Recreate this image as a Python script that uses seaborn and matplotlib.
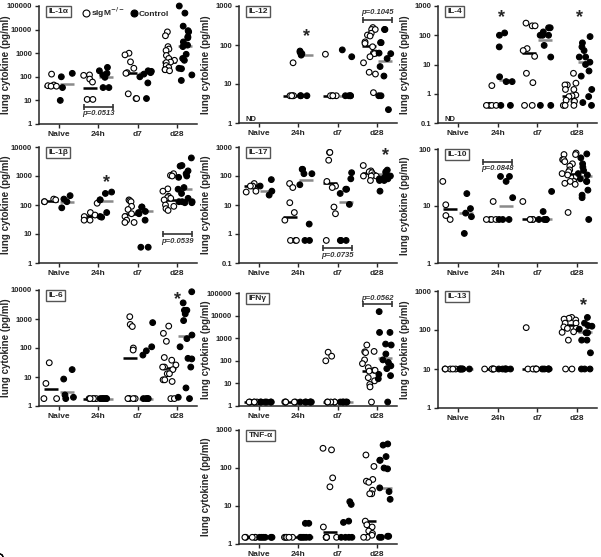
import numpy as np
import pandas as pd
import matplotlib
matplotlib.use("Agg")
import matplotlib.pyplot as plt
import seaborn as sns
from matplotlib.lines import Line2D
from matplotlib.ticker import FuncFormatter, NullLocator

GROUPS = ["Naive", "24h", "d7", "d28"]
KO = "sIgM$^{-/-}$"
CTRL = "Control"
nan = np.nan

# values (pg/ml), one inner list per time point
il1a_ko = [[130, 45, 42, 40, 40],
           [120, 115, 80, 60, 11, 11],
           [1000, 850, 430, 230, 150, 140, 19, 12, 12],
           [8000, 5500, 1900, 1500, 1300, 800, 600, 500, 420, 400, 300, 250, 200, 200, 180]]
il1a_ctrl = [[140, 100, 35, 10],
             [250, 180, 140, 120, 95, 35, 35],
             [180, 170, 150, 130, 100, 55, 12],
             [100000, 50000, 14000, 9000, 8000, 5000, 4500, 3000, 2200, 1900, 900, 600, 500, 230, 220, 120, 70]]
il1a_med_ko = [42, 35, 150, 440]
il1a_med_ctrl = [50, 100, 150, 2000]

il12_ko = [[],
           [35, 5, 5, 5, 5],
           [58, 5, 5, 5, 5],
           [280, 250, 250, 200, 180, 170, 120, 110, 90, 62, 62, 60, 50, 35, 20, 18, 6]]
il12_ctrl = [[],
             [70, 65, 60, 55, 5, 5, 5],
             [75, 50, 5, 5, 5, 5],
             [250, 250, 115, 115, 62, 60, 45, 28, 16, 5, 5, 2.2]]
il12_med_ko = [nan, 5, 5, 92]
il12_med_ctrl = [nan, 55, 5, 38]

il4_ko = [[],
          [1.9, 0.4, 0.4, 0.4, 0.4],
          [260, 210, 210, 35, 30, 19, 5, 2.4, 0.4, 0.4],
          [5, 2.3, 2, 2, 1.4, 1.4, 0.9, 0.85, 0.8, 0.6, 0.55, 0.55, 0.4, 0.4, 0.4]]
il4_ctrl = [[],
            [120, 100, 40, 3.8, 2.6, 2.6, 0.4, 0.4],
            [180, 180, 130, 100, 100, 100, 45, 18, 0.4, 0.4],
            [90, 55, 40, 30, 18, 18, 12, 10, 6, 4, 1.4, 0.8, 0.5, 0.4]]
il4_med_ko = [nan, 0.4, 25, 0.83]
il4_med_ctrl = [nan, 3.0, 70, 12]

il1b_ko = [[160, 150, 130, 130],
           [115, 55, 45, 40, 30, 30],
           [150, 140, 130, 90, 70, 50, 40, 30, 25, 25],
           [1200, 1050, 1000, 360, 300, 200, 180, 170, 150, 100, 90, 75, 65]]
il1b_ctrl = [[210, 160, 130, 80],
             [280, 250, 150, 150, 55, 40, 38],
             [85, 85, 60, 55, 50, 30, 3.5, 3.5],
             [4200, 2300, 2200, 1500, 1200, 1000, 900, 400, 350, 250, 170, 130, 130, 130, 120, 120]]
il1b_med_ko = [140, 43, 50, 150]
il1b_med_ctrl = [130, 140, 60, 360]

il17_ko = [[55, 45, 45, 30, 28],
           [55, 40, 12, 5.5, 3, 0.6, 0.6, 0.6],
           [650, 650, 350, 65, 45, 40, 8.5, 5, 0.6],
           [230, 150, 140, 130, 110, 100, 100, 100, 70]]
il17_ctrl = [[75, 45, 30, 22],
             [170, 170, 120, 120, 50, 2.2, 0.6, 0.6],
             [130, 80, 35, 35, 25, 10.5, 0.6, 0.6, 0.6],
             [160, 140, 130, 100, 90, 90, 80, 80, 70, 70, 30]]
il17_med_ko = [45, 4, 58, 130]
il17_med_ctrl = [30, 75, 13, 115]

il10_ko = [[27, 10.5, 6.8, 5.8],
           [12, 5.8, 5.8, 5.8, 5.8],
           [12, 5.8, 5.8, 5.8, 5.8],
           [85, 80, 80, 65, 65, 60, 55, 50, 43, 40, 37, 35, 33, 27, 27, 25, 24, 7.7]]
il10_ctrl = [[16.5, 9, 7.5, 6.5, 3.3],
             [33, 33, 27, 14, 5.8, 5.8, 5.8],
             [18, 8, 5.8, 5.8, 5.8, 5.8],
             [82, 70, 55, 48, 42, 37, 35, 30, 27, 27, 19, 15.5, 14, 5.8]]
il10_med_ko = [8.7, 5.8, 5.8, 37]
il10_med_ctrl = [7.6, 10, 5.8, 34]

il6_ko = [[31, 6, 1.8, 1.8],
          [1.8, 1.8, 1.8, 1.8, 1.8],
          [1200, 650, 550, 100, 85, 1.8, 1.8, 1.8, 1.8, 1.8],
          [570, 320, 170, 47, 38, 26, 22, 22, 18, 13, 13, 8, 8, 7, 1.8, 1.8]]
il6_ctrl = [[18, 8.5, 2.4, 2, 1.8],
            [1.8, 1.8, 1.8, 1.8, 1.8, 1.8],
            [750, 110, 80, 57, 1.8, 1.8, 1.8, 1.8],
            [8700, 3600, 2000, 2000, 1500, 880, 280, 210, 110, 44, 42, 22, 4.2, 2, 1.8]]
il6_med_ko = [3.9, 1.8, 44, 20]
il6_med_ctrl = [3.1, 1.8, 1.8, 260]

ifng_ko = [[1.5, 1.5, 1.5, 1.5, 1.5],
           [1.5, 1.5, 1.5, 1.5, 1.5],
           [240, 160, 100, 1.5, 1.5, 1.5, 1.5, 1.5],
           [500, 260, 250, 230, 110, 75, 50, 38, 38, 35, 18, 13, 9, 7, 1.5]]
ifng_ctrl = [[1.5, 1.5, 1.5, 1.5, 1.5, 1.5],
             [1.5, 1.5, 1.5, 1.5, 1.5, 1.5],
             [1.5, 1.5, 1.5, 1.5, 1.5],
             [15000, 1800, 1800, 550, 500, 200, 110, 85, 60, 45, 25, 22, 16, 1.5]]
ifng_med_ko = [1.5, 1.5, 1.5, 37]
ifng_med_ctrl = [1.5, 1.5, 1.5, 135]

il13_ko = [[10, 10, 10, 10, 10],
           [10, 10, 10, 10, 10],
           [115, 10, 10, 10, 10, 10],
           [210, 200, 190, 180, 150, 150, 120, 110, 110, 90, 87, 55, 10, 10]]
il13_ctrl = [[10, 10, 10, 10, 10, 10],
             [10, 10, 10, 10, 10, 10],
             [10, 10, 10, 10, 10],
             [210, 150, 130, 125, 105, 85, 85, 55, 55, 26, 10, 10, 10]]
il13_med_ko = [10, 10, 10, 135]
il13_med_ctrl = [10, 10, 10, 90]

tnfa_ko = [[1.5, 1.5, 1.5, 1.5, 1.5],
           [1.5, 1.5, 1.5, 1.5, 1.5],
           [330, 300, 55, 32, 2.8, 1.5, 1.5, 1.5, 1.5, 1.5],
           [220, 110, 50, 45, 42, 26, 21, 21, 4, 3.2, 2.8, 2.2, 1.9, 1.7, 1.5, 1.5]]
tnfa_ctrl = [[1.5, 1.5, 1.5, 1.5, 1.5, 1.5],
             [3.5, 3.5, 1.5, 1.5, 1.5, 1.5, 1.5],
             [13, 11, 4, 3.7, 1.5, 1.5, 1.5, 1.5],
             [430, 400, 200, 160, 160, 100, 95, 30, 24, 15, 1.6, 1.6, 1.5, 1.5]]
tnfa_med_ko = [1.5, 1.5, 2.1, 4.1]
tnfa_med_ctrl = [1.5, 1.5, 1.5, 30]

W, H = 601, 557

sns.set_style("ticks")
plt.rcParams["font.family"] = ["Liberation Sans", "DejaVu Sans"]
plt.rcParams["font.weight"] = "bold"
plt.rcParams["mathtext.default"] = "bf"
np.random.seed(3)  # fixed jitter layout

fig = plt.figure(figsize=(W / 100, H / 100), dpi=100)


def add_ax(left, top, right, bottom):
    return fig.add_axes([left / W, 1 - bottom / H, (right - left) / W, (bottom - top) / H])


def star(ax, gi, dx, y):
    ax.text(gi + dx, y, "*", ha="center", va="center", fontsize=13, fontweight="bold")


def bracket(ax, gi, y, label, ty):
    ax.plot([gi - 0.37, gi + 0.37], [y, y], color="#333333", lw=1.2,
            marker="|", markersize=5, markeredgewidth=1.2)
    ax.text(gi, ty, label, ha="center", va="center", fontsize=5.5,
            fontweight="bold", style="italic", color="#333333")


def panel(ax, title, ko, ctrl, med_ko, med_ctrl, ylim, nd=False):
    rows = []
    for g, vals in zip(GROUPS, ko):
        rows += [(g, KO, v) for v in vals]
    for g, vals in zip(GROUPS, ctrl):
        rows += [(g, CTRL, v) for v in vals]
    df = pd.DataFrame(rows, columns=["time", "mouse", "value"])
    med = pd.DataFrame({"time": GROUPS * 2,
                        "mouse": [KO] * 4 + [CTRL] * 4,
                        "value": list(med_ko) + list(med_ctrl)}).dropna()

    ax.set_yscale("log")
    ax.set_ylim(*ylim)
    sns.stripplot(data=df, x="time", y="value", hue="mouse", order=GROUPS,
                  hue_order=[KO, CTRL], palette={KO: "white", CTRL: "black"},
                  dodge=True, jitter=0.36, size=4.1, edgecolor="black", linewidth=0.8,
                  legend=False, ax=ax)
    sns.pointplot(data=med, x="time", y="value", hue="mouse", order=GROUPS,
                  hue_order=[KO, CTRL], palette={KO: "black", CTRL: "#8a8a8a"},
                  markers="_", linestyles="none", dodge=0.4, errorbar=None,
                  legend=False, markersize=10, markeredgewidth=1.8, ax=ax)
    for c in ax.collections:
        c.set_clip_on(False)

    ax.set_xlim(-0.5, 3.5)
    lo, hi = ylim
    ax.set_yticks([10.0 ** k for k in range(int(round(np.log10(lo))), int(round(np.log10(hi))) + 1)])
    ax.yaxis.set_minor_locator(NullLocator())
    ax.yaxis.set_major_formatter(FuncFormatter(lambda v, p: f"{v:g}"))
    ax.set_xlabel("")
    ax.set_ylabel("lung cytokine (pg/ml)", fontsize=7, fontweight="bold", va="center")
    ax.yaxis.set_label_coords(-0.21, 0.5)
    ax.tick_params(axis="y", labelsize=5.5, width=1, length=3, pad=2)
    ax.tick_params(axis="x", labelsize=6, width=1, length=3, pad=2)
    for lab in ax.get_xticklabels() + ax.get_yticklabels():
        lab.set_fontweight("bold")
    for s in ["left", "bottom"]:
        ax.spines[s].set_linewidth(1.1)
    sns.despine(ax=ax)

    ax.text(0.06, 0.985, title, transform=ax.transAxes, ha="left", va="top",
            fontsize=6, fontweight="bold",
            bbox=dict(boxstyle="square,pad=0.25", fc="white", ec="#555555", lw=1))
    if nd:
        ax.text(0.04, 0.02, "ND", transform=ax.transAxes, fontsize=5.5, fontweight="bold")


# row 1
ax = add_ax(39, 6, 197, 124)
panel(ax, "IL-1α", il1a_ko, il1a_ctrl, il1a_med_ko, il1a_med_ctrl, (1, 100000))
bracket(ax, 1, 5.5, "p=0.0513", 2.7)
handles = [Line2D([], [], ls="none", marker="o", ms=5, mfc="white", mec="black", mew=0.8),
           Line2D([], [], ls="none", marker="o", ms=5, mfc="black", mec="black", mew=0.8)]
ax.legend(handles, [KO, CTRL], loc="center left", bbox_to_anchor=(0.27, 0.94), ncol=2,
          frameon=False, fontsize=6, handletextpad=0.1, columnspacing=0.6,
          handlelength=1, borderpad=0, borderaxespad=0)

ax = add_ax(239, 6, 397, 123)
panel(ax, "IL-12", il12_ko, il12_ctrl, il12_med_ko, il12_med_ctrl, (1, 1000), nd=True)
star(ax, 1, 0.2, 160)
bracket(ax, 3, 440, "p=0.1045", 680)

ax = add_ax(438, 6, 597, 123)
panel(ax, "IL-4", il4_ko, il4_ctrl, il4_med_ko, il4_med_ctrl, (0.1, 1000), nd=True)
star(ax, 1, 0.1, 400)
star(ax, 3, 0.05, 400)

# row 2
ax = add_ax(39, 147, 197, 263)
panel(ax, "IL-1β", il1b_ko, il1b_ctrl, il1b_med_ko, il1b_med_ctrl, (1, 10000))
star(ax, 1, 0.2, 600)
bracket(ax, 3, 10, "p=0.0539", 5.5)

ax = add_ax(239, 147, 397, 263)
panel(ax, "IL-17", il17_ko, il17_ctrl, il17_med_ko, il17_med_ctrl, (0.1, 1000))
star(ax, 3, 0.2, 500)
bracket(ax, 2, 0.32, "p=0.0735", 0.18)

ax = add_ax(438, 149, 597, 263)
panel(ax, "IL-10", il10_ko, il10_ctrl, il10_med_ko, il10_med_ctrl, (1, 100))
bracket(ax, 1, 60, "p=0.0848", 46)

# row 3
ax = add_ax(39, 290, 197, 406)
panel(ax, "IL-6", il6_ko, il6_ctrl, il6_med_ko, il6_med_ctrl, (1, 10000))
star(ax, 3, 0.0, 4500)

ax = add_ax(239, 293, 397, 406)
panel(ax, "IFNγ", ifng_ko, ifng_ctrl, ifng_med_ko, ifng_med_ctrl, (1, 100000))
bracket(ax, 3, 33000, "p=0.0562", 60000)

ax = add_ax(438, 291, 597, 408)
panel(ax, "IL-13", il13_ko, il13_ctrl, il13_med_ko, il13_med_ctrl, (1, 1000))
star(ax, 3, 0.15, 420)

# row 4
ax = add_ax(239, 430, 397, 544)
panel(ax, "TNF-α", tnfa_ko, tnfa_ctrl, tnfa_med_ko, tnfa_med_ctrl, (1, 1000))

fig.savefig("out.png", dpi=100)
